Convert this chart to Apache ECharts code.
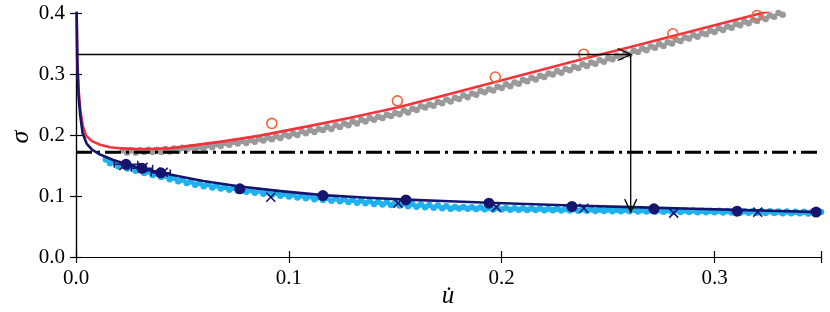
<!DOCTYPE html>
<html><head><meta charset="utf-8">
<script src="https://cdn.jsdelivr.net/npm/echarts/dist/echarts.min.js"></script>
<style>html,body{margin:0;padding:0;background:#fff}#c{width:830px;height:312px}</style>
</head><body><div id="c"></div>
<script>
// ---- data ----
const xTicks = [0.0, 0.1, 0.2, 0.3];
const yTicks = [0.0, 0.1, 0.2, 0.3, 0.4];
const xRange = [0, 0.35];
const yRange = [0, 0.4];

const redCurve = [[0.0002,0.43],[0.0006,0.33],[0.0012,0.275],[0.002,0.242],[0.0032,0.215],[0.0047,0.199],[0.0075,0.19],[0.0113,0.184],[0.016,0.180],[0.022,0.178],[0.028,0.177],[0.035,0.177],[0.043,0.178],[0.055,0.183],[0.07,0.19],[0.0864,0.199],[0.11,0.215],[0.13,0.229],[0.151,0.245],[0.171,0.263],[0.197,0.287],[0.218,0.306],[0.2385,0.325],[0.26,0.344],[0.28,0.362],[0.30,0.380],[0.32,0.398],[0.33,0.407]];

const navyCurve = [[0.0002,0.43],[0.0006,0.32],[0.0012,0.265],[0.002,0.232],[0.0031,0.203],[0.005,0.186],[0.0075,0.176],[0.0113,0.168],[0.0175,0.159],[0.0235,0.152],[0.031,0.145],[0.04,0.138],[0.05,0.131],[0.0598,0.1245],[0.077,0.1155],[0.096,0.108],[0.116,0.1015],[0.135,0.0975],[0.155,0.094],[0.1756,0.0915],[0.194,0.089],[0.215,0.0865],[0.233,0.0845],[0.261,0.0818],[0.29,0.079],[0.31,0.0772],[0.33,0.0755],[0.35,0.0735]];

const grayScatter = [[0.022,0.175],[0.024,0.171],[0.026,0.175],[0.028,0.171],[0.030,0.175],[0.032,0.172],[0.034,0.176],[0.036,0.172],[0.038,0.176],[0.040,0.172],
[0.042,0.177],[0.044,0.173],[0.046,0.178],[0.048,0.174],[0.050,0.179],[0.052,0.176],[0.054,0.180],[0.056,0.177],[0.058,0.181],[0.060,0.178],
[0.062,0.183],[0.064,0.180],[0.066,0.185],[0.068,0.182],[0.070,0.187],[0.072,0.184],[0.074,0.189],[0.076,0.186],[0.078,0.190],[0.080,0.187],[0.082,0.192],[0.084,0.189],[0.086,0.194],[0.088,0.191],[0.090,0.196],[0.092,0.193],
[0.094,0.198],[0.096,0.195],[0.098,0.201],[0.100,0.198],[0.102,0.203],[0.104,0.200],[0.106,0.206],[0.108,0.203],[0.110,0.208],[0.112,0.205],[0.114,0.210],[0.116,0.208],[0.118,0.213],[0.120,0.210],
[0.122,0.216],[0.124,0.213],[0.126,0.219],[0.128,0.216],[0.130,0.222],[0.132,0.219],[0.134,0.225],[0.136,0.222],[0.138,0.228],[0.140,0.225],[0.142,0.230],[0.144,0.228],[0.146,0.233],[0.148,0.231],[0.150,0.236],
[0.152,0.234],[0.154,0.240],[0.156,0.237],[0.158,0.243],[0.160,0.241],[0.162,0.247],[0.164,0.245],[0.166,0.250],[0.168,0.248],[0.170,0.254],[0.172,0.252],[0.174,0.258],[0.176,0.255],[0.178,0.261],[0.180,0.259],[0.182,0.265],[0.184,0.262],[0.186,0.268],[0.188,0.266],[0.190,0.272],[0.192,0.270],[0.194,0.275],[0.196,0.273],
[0.198,0.279],[0.200,0.277],[0.202,0.283],[0.204,0.280],[0.206,0.286],[0.208,0.284],[0.210,0.290],[0.212,0.288],[0.214,0.294],[0.216,0.291],[0.218,0.297],[0.220,0.295],[0.222,0.301],[0.224,0.299],[0.226,0.305],[0.228,0.302],[0.230,0.308],[0.232,0.306],[0.234,0.312],[0.236,0.310],[0.238,0.316],
[0.240,0.313],[0.242,0.319],[0.244,0.317],[0.246,0.323],[0.248,0.320],[0.250,0.326],[0.252,0.324],[0.254,0.330],[0.256,0.328],[0.258,0.334],[0.260,0.332],[0.262,0.338],[0.264,0.336],[0.266,0.342],[0.268,0.339],[0.270,0.345],[0.272,0.343],[0.274,0.349],[0.276,0.346],[0.278,0.352],[0.280,0.350],
[0.282,0.356],[0.284,0.354],[0.286,0.360],[0.288,0.358],[0.290,0.364],[0.292,0.361],[0.294,0.367],[0.296,0.365],[0.298,0.371],[0.300,0.369],[0.302,0.375],[0.304,0.372],[0.306,0.378],[0.308,0.376],[0.310,0.382],[0.312,0.380],[0.314,0.386],[0.316,0.383],[0.318,0.389],[0.320,0.387],
[0.322,0.393],[0.324,0.390],[0.326,0.396],[0.328,0.394],[0.330,0.400],[0.332,0.397],[0.334,0.403]];

const blueScatter = [[0.014,0.160],[0.016,0.1535],[0.018,0.155],[0.020,0.1485],[0.022,0.1507],[0.024,0.1449],[0.026,0.1471],[0.028,0.1413],[0.030,0.1435],[0.032,0.1378],[0.034,0.1401],[0.036,0.1344],[0.038,0.1367],[0.040,0.131],
[0.042,0.1333],[0.044,0.1276],[0.046,0.1299],[0.048,0.1242],[0.050,0.1265],[0.052,0.1212],[0.054,0.1239],[0.056,0.1186],[0.058,0.1213],[0.060,0.116],
[0.062,0.1191],[0.064,0.1141],[0.066,0.1172],[0.068,0.1122],[0.070,0.1153],[0.072,0.1104],[0.074,0.1134],[0.076,0.1085],[0.078,0.1116],[0.080,0.1068],[0.082,0.1100],[0.084,0.1053],[0.086,0.1085],[0.088,0.1037],[0.090,0.1069],[0.092,0.1021],[0.094,0.1053],[0.096,0.1006],[0.098,0.1038],[0.100,0.099],
[0.102,0.1023],[0.104,0.0976],[0.106,0.1009],[0.108,0.0962],[0.110,0.0995],[0.112,0.0948],[0.114,0.0981],[0.116,0.0934],[0.118,0.0967],[0.120,0.0922],[0.122,0.0957],[0.124,0.0912],[0.126,0.0947],[0.128,0.0902],[0.130,0.0937],[0.132,0.0891],[0.134,0.0926],[0.136,0.0881],[0.138,0.0916],[0.140,0.087],
[0.142,0.0906],[0.144,0.0861],[0.146,0.0897],[0.148,0.0852],[0.150,0.0888],[0.152,0.0843],[0.154,0.0879],[0.156,0.0834],[0.158,0.0870],[0.160,0.0825],[0.162,0.0861],[0.164,0.0816],[0.166,0.0852],[0.168,0.0807],[0.170,0.0843],[0.172,0.0798],[0.174,0.0834],[0.176,0.079],
[0.178,0.0821],[0.180,0.0794],[0.182,0.0818],[0.184,0.0790],[0.186,0.0815],[0.188,0.0787],[0.190,0.0811],[0.192,0.0784],[0.194,0.0808],[0.196,0.0780],[0.198,0.0805],[0.200,0.0777],
[0.202,0.0802],[0.204,0.0775],[0.206,0.0800],[0.208,0.0773],[0.210,0.0798],[0.212,0.0771],[0.214,0.0796],[0.216,0.0769],[0.218,0.0794],[0.220,0.0767],[0.222,0.0792],[0.224,0.0765],[0.226,0.0790],[0.228,0.0763],[0.230,0.0788],[0.232,0.0761],[0.234,0.0786],[0.236,0.0759],[0.238,0.0784],[0.240,0.0757],[0.242,0.0782],[0.244,0.0755],[0.246,0.0780],[0.248,0.0753],[0.250,0.0778],
[0.252,0.0751],[0.254,0.0776],[0.256,0.0750],[0.258,0.0775],[0.260,0.0748],[0.262,0.0773],[0.264,0.0746],[0.266,0.0772],[0.268,0.0745],[0.270,0.0770],[0.272,0.0743],[0.274,0.0768],[0.276,0.0742],[0.278,0.0767],[0.280,0.0740],[0.282,0.0765],[0.284,0.0738],[0.286,0.0764],[0.288,0.0737],[0.290,0.0762],[0.292,0.0735],[0.294,0.0760],[0.296,0.0734],[0.298,0.0759],[0.300,0.0732],
[0.302,0.0757],[0.304,0.0730],[0.306,0.0756],[0.308,0.0729],[0.310,0.0754],[0.312,0.0727],[0.314,0.0752],[0.316,0.0726],[0.318,0.0751],[0.320,0.0724],[0.322,0.0749],[0.324,0.0722],[0.326,0.0748],[0.328,0.0721],[0.330,0.0746],[0.332,0.0719],[0.334,0.0744],[0.336,0.0718],[0.338,0.0743],[0.340,0.0716],[0.342,0.0741],[0.344,0.0714],[0.346,0.0740],[0.348,0.0713],[0.350,0.0738]];

const orangeCircles = [[0.092,0.219],[0.151,0.256],[0.197,0.295],[0.2385,0.3325],[0.2804,0.366],[0.320,0.396]];

const navyDots = [[0.0235,0.152],[0.031,0.1455],[0.0398,0.138],[0.077,0.1117],[0.116,0.1007],[0.155,0.0935],[0.194,0.0883],[0.233,0.0828],[0.2715,0.079],[0.3106,0.0752],[0.3477,0.0736]];

const navyCrosses = [[0.0225,0.150],[0.0315,0.147],[0.041,0.139],[0.0915,0.098],[0.1513,0.0883],[0.1975,0.0817],[0.2386,0.080],[0.2808,0.072],[0.3203,0.0736]];

// [x, y, xerr, yerr]
const errorBars = [[0.0235,0.152,0.0055,0.003],[0.031,0.1455,0.005,0.003],[0.0398,0.138,0.0045,0.003]];

const thresholdLine = [[0,0.1717],[0.35,0.1717]];

// [x1, y1, x2, y2]
const arrows = [[0,0.332,0.2606,0.332],[0.2606,0.332,0.2606,0.0736]];

// ---- chart ----
const FONT = '"Liberation Serif", "DejaVu Serif", serif';
const NAVY = '#15156f';
const chart = echarts.init(document.getElementById('c'), null, {renderer:'canvas'});

const axisLineStyle = {lineStyle:{color:'#000', width:1.2}};
const tickStyle = {show:true, inside:false, length:6, lineStyle:{color:'#000', width:1.2}};

chart.setOption({
  animation:false,
  backgroundColor:'#fff',
  grid:{left:76, right:9, top:13, bottom:55, containLabel:false},
  xAxis:[
    {type:'value', min:xRange[0], max:xRange[1], interval:0.1, position:'bottom',
     axisLine:axisLineStyle, axisTick:tickStyle, splitLine:{show:false},
     axisLabel:{margin:11, color:'#000', fontFamily:FONT, fontSize:21,
       formatter:v=> xTicks.some(t=>Math.abs(t-v)<1e-9) ? v.toFixed(1) : ''}},
    {type:'value', min:xRange[0], max:xRange[1], interval:0.1, position:'top',
     axisLine:axisLineStyle, axisTick:tickStyle, axisLabel:{show:false}, splitLine:{show:false}}
  ],
  yAxis:[
    {type:'value', min:yRange[0], max:yRange[1], interval:0.1, position:'left',
     axisLine:axisLineStyle, axisTick:tickStyle, splitLine:{show:false},
     axisLabel:{margin:11, color:'#000', fontFamily:FONT, fontSize:21,
       formatter:v=> yTicks.some(t=>Math.abs(t-v)<1e-9) ? v.toFixed(1) : ''}},
    {type:'value', min:yRange[0], max:yRange[1], interval:0.1, position:'right',
     axisLine:axisLineStyle, axisTick:tickStyle, axisLabel:{show:false}, splitLine:{show:false}}
  ],
  graphic:[
    {type:'text', x:21, y:137, rotation:Math.PI/2,
     style:{text:'σ', font:'italic 26px '+FONT, fill:'#000', align:'center', verticalAlign:'middle'}},
    {type:'text', x:448, y:296,
     style:{text:'u\u0307', font:'italic 25px '+FONT, fill:'#000', align:'center', verticalAlign:'middle'}}
  ],
  series:[
    {type:'scatter', data:grayScatter, symbol:'circle', symbolSize:6.5, z:1,
     itemStyle:{color:'#9a9a9a', opacity:1}},
    {type:'scatter', data:blueScatter, symbol:'circle', symbolSize:6.5, z:1,
     itemStyle:{color:'#1fb1ee', opacity:1}},
    {type:'line', data:thresholdLine, showSymbol:false, symbol:'none', z:3,
     lineStyle:{color:'#000', width:2.8, type:[16,5,3,5]}},
    {type:'line', data:redCurve, showSymbol:false, symbol:'none', smooth:false, z:4,
     lineStyle:{color:'#f2333a', width:2.6, join:'round'}},
    {type:'line', data:navyCurve, showSymbol:false, symbol:'none', smooth:false, z:4,
     lineStyle:{color:NAVY, width:2.6, join:'round'}},
    {type:'custom', z:5, data:errorBars,
     renderItem:function(params, api){
       const x=api.value(0), y=api.value(1), dx=api.value(2), dy=api.value(3);
       const l=api.coord([x-dx,y]), r=api.coord([x+dx,y]);
       const t=api.coord([x,y+dy]), b=api.coord([x,y-dy]);
       const st={stroke:NAVY, lineWidth:1.5};
       return {type:'group', children:[
         {type:'line', shape:{x1:l[0],y1:l[1],x2:r[0],y2:r[1]}, style:st},
         {type:'line', shape:{x1:l[0],y1:l[1]-3.5,x2:l[0],y2:l[1]+3.5}, style:st},
         {type:'line', shape:{x1:r[0],y1:r[1]-3.5,x2:r[0],y2:r[1]+3.5}, style:st},
         {type:'line', shape:{x1:t[0],y1:t[1],x2:b[0],y2:b[1]}, style:st}
       ]};
     }},
    {type:'scatter', data:orangeCircles, symbol:'circle', symbolSize:10, z:6,
     itemStyle:{color:'rgba(0,0,0,0)', borderColor:'#f0643c', borderWidth:1.6, opacity:1}},
    {type:'scatter', data:navyCrosses, symbol:'path://M0,0 L10,10 M10,0 L0,10', symbolSize:9, z:6,
     itemStyle:{color:'rgba(0,0,0,0)', borderColor:NAVY, borderWidth:1.6, opacity:1}},
    {type:'scatter', data:navyDots, symbol:'circle', symbolSize:11, z:7,
     itemStyle:{color:NAVY, opacity:1}},
    {type:'custom', z:8, data:arrows,
     renderItem:function(params, api){
       const p1=api.coord([api.value(0),api.value(1)]);
       const p2=api.coord([api.value(2),api.value(3)]);
       const ang=Math.atan2(p2[1]-p1[1], p2[0]-p1[0]);
       const L=13, W=6;
       const bx=p2[0]-L*Math.cos(ang), by=p2[1]-L*Math.sin(ang);
       const nx=-Math.sin(ang), ny=Math.cos(ang);
       const st={stroke:'#000', lineWidth:1.3, fill:null};
       return {type:'group', children:[
         {type:'line', shape:{x1:p1[0],y1:p1[1],x2:p2[0],y2:p2[1]}, style:st},
         {type:'polyline', shape:{points:[[bx+nx*W,by+ny*W],[p2[0],p2[1]],[bx-nx*W,by-ny*W]]}, style:st}
       ]};
     }}
  ]
});
</script>
</body></html>
